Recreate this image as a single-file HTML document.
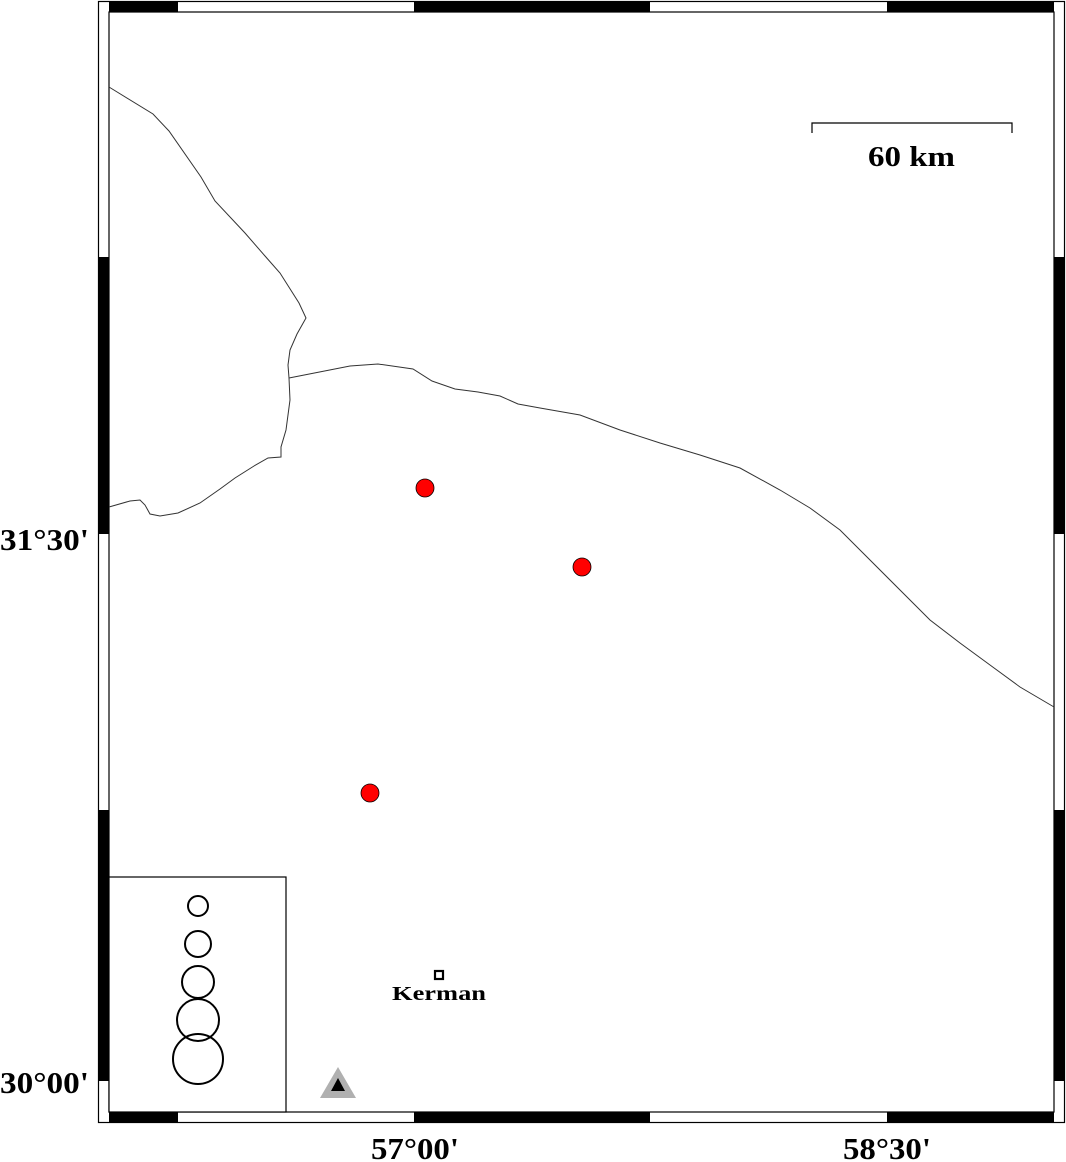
<!DOCTYPE html>
<html><head><meta charset="utf-8"><style>
html,body{margin:0;padding:0;background:#fff;width:1066px;height:1162px;overflow:hidden}
</style></head><body>
<svg width="1066" height="1162" xmlns="http://www.w3.org/2000/svg" style="position:absolute;left:0;top:0">
<rect x="0" y="0" width="1066" height="1162" fill="#fff"/>
<rect x="98.5" y="1.5" width="966" height="1121" fill="none" stroke="#000" stroke-width="1.2"/>
<rect x="109" y="12" width="945" height="1100" fill="none" stroke="#000" stroke-width="1.2"/>
<g fill="#000">
<rect x="109" y="2" width="69" height="10"/><rect x="414" y="2" width="236" height="10"/><rect x="887" y="2" width="167" height="10"/>
<rect x="109" y="1112" width="69" height="10"/><rect x="414" y="1112" width="236" height="10"/><rect x="887" y="1112" width="167" height="10"/>
<rect x="99" y="257" width="10" height="277"/><rect x="99" y="810" width="10" height="271"/>
<rect x="1054" y="257" width="10" height="277"/><rect x="1054" y="810" width="10" height="271"/>
</g>
<g fill="none" stroke="#333" stroke-width="1">
<polyline points="109,87 153,114 169,131 201,177 215,201 245,233 265,256 280,273 299,303 306,318 297,334 290,350 288,365 289,378"/>
<polyline points="289,378 350,366 378,364 413,369 432,381 455,389 478,392 500,396 518,404 540,408 580,415 620,430 660,443 700,455 740,468 780,490 810,508 840,530 870,560 900,590 930,620 960,643 990,665 1020,687 1054,707"/>
<polyline points="289,378 290,400 286,430 281,447 281,457 268,458 254,466 235,478 220,489 200,503 178,513 160,516 150,514 145,505 140,500 130,501 109,507"/>
</g>
<polyline points="812,133 812,123 1012,123 1012,133" fill="none" stroke="#000" stroke-width="1.2"/>
<text x="868" y="166" font-family="Liberation Serif,serif" font-weight="bold" font-size="28" textLength="87" lengthAdjust="spacingAndGlyphs">60 km</text>
<g fill="#f00" stroke="#000" stroke-width="0.8">
<circle cx="425" cy="488" r="9"/><circle cx="582" cy="567" r="9"/><circle cx="370" cy="793" r="9"/>
</g>
<rect x="109" y="877" width="177" height="235" fill="#fff" stroke="#000" stroke-width="1.2"/>
<g fill="none" stroke="#000" stroke-width="2">
<circle cx="198" cy="906" r="10"/><circle cx="198" cy="944" r="13"/><circle cx="198" cy="982" r="16"/><circle cx="198" cy="1020" r="21"/><circle cx="198" cy="1059" r="25"/>
</g>
<polygon points="338,1067 320,1098 356,1098" fill="#b0b0b0"/>
<polygon points="338,1078 331,1091 345,1091" fill="#000"/>
<rect x="435" y="971" width="8" height="8" fill="#fff" stroke="#000" stroke-width="2.2"/>
<text x="392" y="1000" font-family="Liberation Serif,serif" font-weight="bold" font-size="20" textLength="94" lengthAdjust="spacingAndGlyphs">Kerman</text>
<g font-family="Liberation Serif,serif" font-weight="bold" font-size="31">
<text x="0" y="550" textLength="89" lengthAdjust="spacingAndGlyphs">31°30'</text>
<text x="0" y="1093" textLength="89" lengthAdjust="spacingAndGlyphs">30°00'</text>
<text x="371" y="1159" textLength="88" lengthAdjust="spacingAndGlyphs">57°00'</text>
<text x="843" y="1159" textLength="88" lengthAdjust="spacingAndGlyphs">58°30'</text>
</g>
</svg>
</body></html>
